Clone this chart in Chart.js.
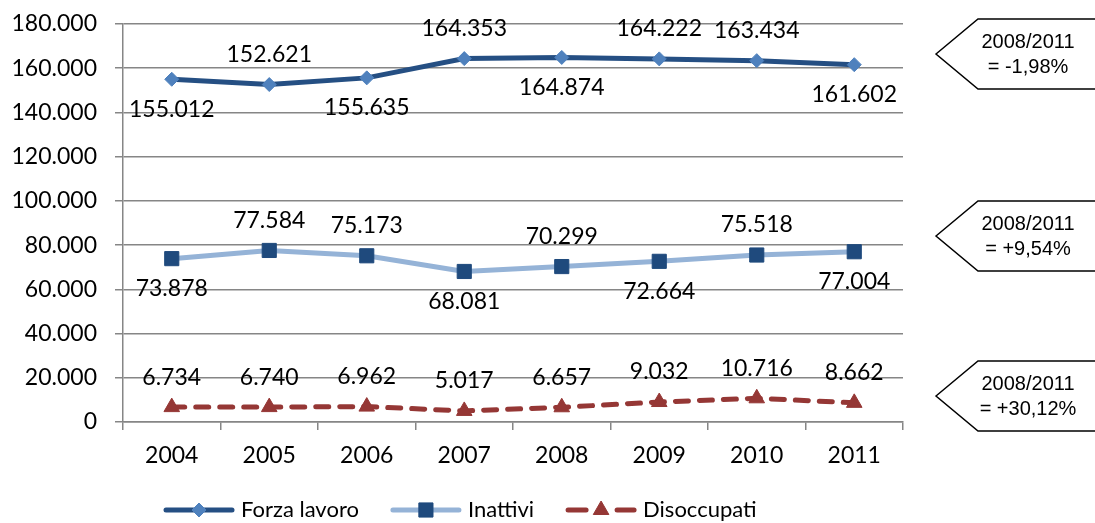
<!DOCTYPE html>
<html>
<head>
<meta charset="utf-8">
<script src="https://cdn.jsdelivr.net/npm/chart.js@4.4.0/dist/chart.umd.min.js"></script>
<style>
  html, body { margin: 0; padding: 0; background: #ffffff; }
  canvas { display: block; }
</style>
</head>
<body>
<canvas id="chart" width="1095" height="523"></canvas>
<script>
// Anni e serie
const years = ['2004', '2005', '2006', '2007', '2008', '2009', '2010', '2011'];
const forzaLavoro = [155012, 152621, 155635, 164353, 164874, 164222, 163434, 161602];
const inattivi = [73878, 77584, 75173, 68081, 70299, 72664, 75518, 77004];
const disoccupati = [6734, 6740, 6962, 5017, 6657, 9032, 10716, 8662];
const seriesNames = ['Forza lavoro', 'Inattivi', 'Disoccupati'];

// Asse Y
const yMin = 0;
const yMax = 180000;
const yStep = 20000;

// Variazioni 2008/2011 (una per serie)
const variazioni = [
  ['2008/2011', '= -1,98%'],
  ['2008/2011', '= +9,54%'],
  ['2008/2011', '= +30,12%']
];

const FONT = 'Lato, "Open Sans", "DejaVu Sans", sans-serif';

function fmt(v) {
  return String(v).replace(/\B(?=(\d{3})+(?!\d))/g, '.');
}

// Etichette valore sopra/sotto i punti
const valueLabels = {
  id: 'valueLabels',
  afterDatasetsDraw(chart) {
    const ctx = chart.ctx;
    ctx.save();
    ctx.font = '23px ' + FONT;
    ctx.fillStyle = '#000000';
    ctx.textAlign = 'center';
    ctx.textBaseline = 'middle';
    chart.data.datasets.forEach((ds, di) => {
      const meta = chart.getDatasetMeta(di);
      meta.data.forEach((pt, i) => {
        const below = ds.labelBelow && ds.labelBelow.includes(i);
        const y = below ? pt.y + 30 : pt.y - 30;
        ctx.fillText(fmt(ds.data[i]), pt.x, y);
      });
    });
    ctx.restore();
  }
};

// Riquadri a freccia con la variazione percentuale
const variationBoxes = {
  id: 'variationBoxes',
  afterDraw(chart) {
    const ctx = chart.ctx;
    const tops = [19, 201, 361];
    const h = 70;
    const tipX = 936, cornerX = 978, rightX = 1100;
    ctx.save();
    tops.forEach((top, k) => {
      const mid = top + h / 2;
      ctx.beginPath();
      ctx.moveTo(tipX, mid);
      ctx.lineTo(cornerX, top);
      ctx.lineTo(rightX, top);
      ctx.lineTo(rightX, top + h);
      ctx.lineTo(cornerX, top + h);
      ctx.closePath();
      ctx.fillStyle = '#ffffff';
      ctx.fill();
      ctx.lineWidth = 1.5;
      ctx.strokeStyle = '#000000';
      ctx.stroke();
      ctx.fillStyle = '#000000';
      ctx.font = '20px "Liberation Sans", Arial, sans-serif';
      ctx.textAlign = 'center';
      ctx.textBaseline = 'middle';
      ctx.fillText(variazioni[k][0], 1028, mid - 12);
      ctx.fillText(variazioni[k][1], 1028, mid + 13);
    });
    ctx.restore();
  }
};

// Legenda in basso: linea + marcatore + nome
const bottomLegend = {
  id: 'bottomLegend',
  afterDraw(chart) {
    const ctx = chart.ctx;
    const y = 510;
    const lineLen = 72;
    let x = 163;
    ctx.save();
    ctx.font = '22px ' + FONT;
    ctx.textBaseline = 'middle';
    ctx.textAlign = 'left';
    chart.data.datasets.forEach((ds) => {
      ctx.save();
      ctx.strokeStyle = ds.borderColor;
      ctx.lineWidth = ds.borderWidth;
      ctx.lineCap = 'round';
      ctx.setLineDash(ds.borderDash ? [18, 31] : []);
      ctx.beginPath();
      ctx.moveTo(x + 3, y);
      ctx.lineTo(x + lineLen - 3, y);
      ctx.stroke();
      ctx.restore();
      ctx.save();
      ctx.fillStyle = ds.pointBackgroundColor;
      ctx.strokeStyle = ds.pointBorderColor;
      ctx.lineWidth = 1;
      Chart.helpers.drawPoint(ctx, {
        pointStyle: ds.pointStyle,
        radius: ds.pointRadius,
        rotation: 0,
        borderWidth: 1
      }, x + lineLen / 2, y);
      ctx.restore();
      ctx.fillStyle = '#000000';
      const tx = x + lineLen + 6;
      ctx.fillText(ds.label, tx, y);
      x = tx + ctx.measureText(ds.label).width + 31;
    });
    ctx.restore();
  }
};

Chart.defaults.font.family = FONT;
Chart.defaults.color = '#000000';

new Chart(document.getElementById('chart'), {
  type: 'line',
  data: {
    labels: years,
    datasets: [
      {
        label: seriesNames[0],
        data: forzaLavoro,
        borderColor: '#254f83',
        borderWidth: 5,
        pointStyle: 'rectRot',
        pointRadius: 7,
        pointHoverRadius: 7,
        pointBackgroundColor: '#4f81bd',
        pointBorderColor: '#4f81bd',
        pointBorderWidth: 1,
        tension: 0,
        labelBelow: [0, 2, 4, 7]
      },
      {
        label: seriesNames[1],
        data: inattivi,
        borderColor: '#95b3d7',
        borderWidth: 5,
        pointStyle: 'rect',
        pointRadius: 10,
        pointHoverRadius: 10,
        pointBackgroundColor: '#1f4a7d',
        pointBorderColor: '#1f4a7d',
        pointBorderWidth: 1,
        tension: 0,
        labelBelow: [0, 3, 5, 7]
      },
      {
        label: seriesNames[2],
        data: disoccupati,
        borderColor: '#953735',
        borderWidth: 5,
        borderDash: [13, 11],
        borderCapStyle: 'round',
        pointStyle: 'triangle',
        pointRadius: 9,
        pointHoverRadius: 9,
        pointBackgroundColor: '#953735',
        pointBorderColor: '#953735',
        pointBorderWidth: 1,
        tension: 0,
        labelBelow: []
      }
    ]
  },
  options: {
    responsive: false,
    animation: false,
    events: [],
    layout: { autoPadding: false, padding: { left: 0, right: 192, top: 24, bottom: 51 } },
    plugins: {
      legend: { display: false },
      tooltip: { enabled: false }
    },
    scales: {
      x: {
        offset: true,
        grid: {
          display: true,
          offset: true,
          drawOnChartArea: false,
          drawTicks: true,
          tickLength: 8,
          color: '#868686',
          lineWidth: 1.5
        },
        border: { display: true, color: '#868686', width: 1.5 },
        ticks: {
          font: { size: 23 },
          color: '#000000',
          padding: 12,
          maxRotation: 0
        },
        afterFit(scale) {
          scale.height = 50;
          scale.paddingLeft = 0;
          scale.paddingRight = 0;
        }
      },
      y: {
        min: yMin,
        max: yMax,
        ticks: {
          stepSize: yStep,
          font: { size: 23 },
          color: '#000000',
          padding: 18,
          callback: (v) => fmt(v)
        },
        grid: {
          color: '#868686',
          lineWidth: 1.5,
          drawTicks: true,
          tickLength: 8
        },
        border: { display: true, color: '#868686', width: 1.5 },
        afterFit(scale) {
          scale.width = 123;
          scale.paddingTop = 0;
          scale.paddingBottom = 0;
        }
      }
    }
  },
  plugins: [valueLabels, variationBoxes, bottomLegend]
});
</script>
</body>
</html>
